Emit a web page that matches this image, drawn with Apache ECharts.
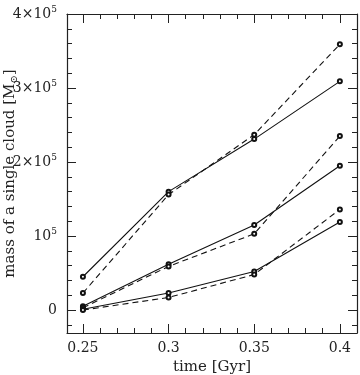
<!DOCTYPE html>
<html>
<head>
<meta charset="utf-8">
<script src="https://cdn.jsdelivr.net/npm/echarts@6/dist/echarts.min.js"></script>
<style>
  html, body { margin: 0; padding: 0; background: #fff; }
  #chart { width: 360px; height: 375px; }
</style>
</head>
<body>
<div id="chart"></div>
<script>
// time axis (Gyr)
const times = [0.25, 0.3, 0.35, 0.4]
// cloud mass, solid and dashed pairs, top to bottom
const topSolid = [45000, 160000, 231000, 309000]
const topDashed = [23000, 156000, 237000, 359000]
const midSolid = [5000, 62000, 115000, 195000]
const midDashed = [3000, 59000, 103000, 235000]
const lowSolid = [1000, 23000, 52000, 119000]
const lowDashed = [0, 17000, 48000, 136000]

// ticks
const xMajor = [0.25, 0.3, 0.35, 0.4]
const xMinor = [0.25, 0.26, 0.27, 0.28, 0.29, 0.3, 0.31, 0.32, 0.33, 0.34, 0.35, 0.36, 0.37, 0.38, 0.39, 0.4]
const yMajor = [0, 100000, 200000, 300000, 400000]
const yMinor = [-20000, 20000, 40000, 60000, 80000, 120000, 140000, 160000, 180000,
  220000, 240000, 260000, 280000, 320000, 340000, 360000, 380000]
const yLabels = { 0: '{b|0}', 100000: '{b|10}{s|5}', 200000: '{b|2×10}{s|5}', 300000: '{b|3×10}{s|5}', 400000: '{b|4×10}{s|5}' }

const serif = 'DejaVu Serif'
const labelFont = 'DejaVu Serif'
const axisColor = '#222'

function pairs(vals) {
  return times.map((t, i) => [t, vals[i]])
}

function xAxisOf(pos, ticks, len, withLabel, withLine) {
  return {
    type: 'value',
    position: pos,
    min: 0.2407,
    max: 0.41,
    axisLine: { show: withLine, onZero: false, lineStyle: { color: axisColor, width: 1.2 } },
    axisTick: { show: true, inside: true, length: len, customValues: ticks, lineStyle: { color: axisColor, width: 1 } },
    axisLabel: withLabel ? {
      show: true,
      customValues: xMajor,
      margin: 8,
      color: '#222',
      fontFamily: labelFont,
      fontSize: 14
    } : { show: false },
    splitLine: { show: false },
    name: withLabel ? 'time [Gyr]' : '',
    nameLocation: 'middle',
    nameGap: 27,
    nameMoveOverlap: false,
    nameTextStyle: { color: '#222', fontFamily: serif, fontSize: 15 }
  }
}

function yAxisOf(pos, ticks, len, withLabel, withLine) {
  return {
    type: 'value',
    position: pos,
    min: -31000,
    max: 400000,
    axisLine: { show: withLine, onZero: false, lineStyle: { color: axisColor, width: 1.2 } },
    axisTick: { show: true, inside: true, length: len, customValues: ticks, lineStyle: { color: axisColor, width: 1 } },
    axisLabel: withLabel ? {
      show: true,
      customValues: yMajor,
      margin: 10,
      formatter: v => yLabels[v] || '',
      rich: {
        b: { color: '#222', fontFamily: labelFont, fontSize: 14 },
        s: { color: '#222', fontFamily: labelFont, fontSize: 9, padding: [0, 0, 9, 0] }
      }
    } : { show: false },
    splitLine: { show: false },
    name: withLabel ? 'mass of a single cloud [M{sub|⊙}]' : '',
    nameLocation: 'middle',
    nameGap: 48,
    nameRotate: 90,
    nameMoveOverlap: false,
    nameTextStyle: {
      color: '#222', fontFamily: serif, fontSize: 15,
      rich: {
        sub: { color: '#222', fontFamily: serif, fontSize: 10, padding: [8, 0, 0, 0] }
      }
    }
  }
}

function line(vals, dashed) {
  return {
    type: 'line',
    data: pairs(vals),
    symbol: 'emptyCircle',
    symbolSize: 4,
    lineStyle: { color: '#111', width: 1.1, type: dashed ? [6, 4] : 'solid' },
    itemStyle: { color: '#111', borderColor: '#111', borderWidth: 1 },
    silent: true,
    z: 3
  }
}

const chart = echarts.init(document.getElementById('chart'))
chart.setOption({
  animation: false,
  backgroundColor: '#fff',
  grid: { left: 67, right: 3, top: 14, bottom: 42, outerBoundsMode: 'none', containLabel: false },
  xAxis: [
    xAxisOf('bottom', xMajor, 9, true, true),
    xAxisOf('bottom', xMinor, 5, false, false),
    xAxisOf('top', xMajor, 9, false, true),
    xAxisOf('top', xMinor, 5, false, false)
  ],
  yAxis: [
    yAxisOf('left', yMajor, 9, true, true),
    yAxisOf('left', yMinor, 5, false, false),
    yAxisOf('right', yMajor, 9, false, true),
    yAxisOf('right', yMinor, 5, false, false)
  ],
  series: [
    line(topSolid, false),
    line(topDashed, true),
    line(midSolid, false),
    line(midDashed, true),
    line(lowSolid, false),
    line(lowDashed, true)
  ]
})
</script>
</body>
</html>
